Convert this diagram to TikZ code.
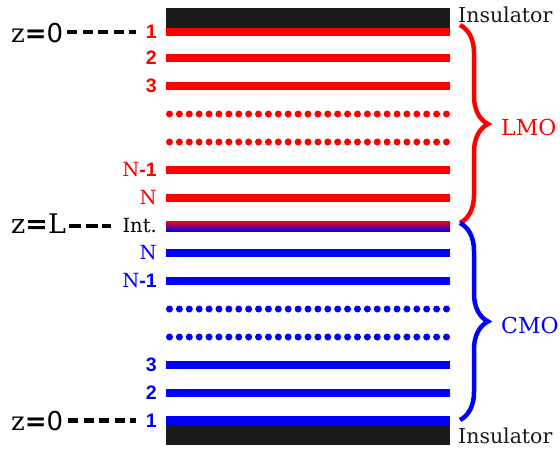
\documentclass[tikz,border=0pt]{standalone}
\usepackage{fontspec}
\setmainfont{DejaVu Serif}
\newfontfamily\numfont{Liberation Sans}
\newfontfamily\eqfont{DejaVu Sans}
\usetikzlibrary{decorations.pathreplacing}

\definecolor{insgray}{HTML}{1A1A1A}
\definecolor{lmored}{HTML}{FF0000}
\definecolor{cmoblue}{HTML}{0000FF}

\begin{document}
\begin{tikzpicture}[x=1pt,y=-1pt,
  layer/.style={rectangle, inner sep=0pt, outer sep=0pt, draw=none,
    minimum width=284pt, minimum height=8.5pt},
  insul/.style={rectangle, inner sep=0pt, outer sep=0pt, draw=none,
    fill=insgray, minimum width=284pt, minimum height=20pt},
  num/.style={font=\numfont\bfseries\fontsize{19.5}{19.5}\selectfont,
    anchor=east, inner sep=0pt},
  idx/.style={font=\fontsize{19.5}{19.5}\selectfont, anchor=east, inner sep=0pt},
  insname/.style={font=\fontsize{20.5}{20.5}\selectfont, anchor=base west,
    inner sep=0pt, text=insgray},
  region/.style={font=\fontsize{22}{22}\selectfont, anchor=west, inner sep=0pt},
  zlab/.style={anchor=base west, inner sep=0pt, text=black},
  zdash/.style={line width=4.5pt, black},
  brc/.style={decorate, decoration={brace, amplitude=28pt}, line width=4.5pt}
]
\useasboundingbox (0,0) rectangle (560,450);

% ---- LMO layers (red) ----
\node[layer, fill=lmored] (r1) at (308,32) {};
\node[layer, fill=lmored] (r2) at (308,58) {};
\node[layer, fill=lmored] (r3) at (308,86) {};
\node[layer, fill=lmored] (rn1) at (308,170) {};
\node[layer, fill=lmored] (rn) at (308,198) {};

% ---- interface layer: red fading into blue ----
\shade[top color=lmored, bottom color=cmoblue] (166,221) rectangle (450,231);
\node[inner sep=0pt, minimum width=284pt, minimum height=10pt] (int) at (308,226) {};

% ---- CMO layers (blue) ----
\node[layer, fill=cmoblue] (bn) at (308,253) {};
\node[layer, fill=cmoblue] (bn1) at (308,281) {};
\node[layer, fill=cmoblue] (b3) at (308,365) {};
\node[layer, fill=cmoblue] (b2) at (308,393) {};
\node[layer, fill=cmoblue] (b1) at (308,420.5) {};

% ---- dotted rows standing for the omitted layers ----
\foreach \yy/\cc in {114/lmored,142/lmored,309/cmoblue,337/cmoblue}{
  \foreach \k in {0,...,28}{
    \fill[\cc] (169.5+\k*9.893,\yy) circle (3.5pt);
  }
}

% ---- insulators ----
\node[insul] (instop) at (308,17.5) {};
\node[insul] (insbot) at (308,435) {};
\node[insname] (instoplab) at (458,22) {Insulator};
\node[insname] (insbotlab) at (458,443) {Insulator};

% ---- layer indices, LMO side ----
\node[num, text=lmored] (l1) at (157,32) {1};
\node[num, text=lmored] (l2) at (157,58) {2};
\node[num, text=lmored] (l3) at (157,86) {3};
\node[idx, text=lmored] (ln1) at (157,170) {N{\numfont\bfseries\fontsize{19.5}{19.5}\selectfont -1}};
\node[idx, text=lmored] (ln) at (157,198) {N};

% ---- interface label ----
\node[idx, text=black] (lint) at (157,226) {Int.};

% ---- layer indices, CMO side ----
\node[idx, text=cmoblue] (cn) at (157,253) {N};
\node[idx, text=cmoblue] (cn1) at (157,281) {N{\numfont\bfseries\fontsize{19.5}{19.5}\selectfont -1}};
\node[num, text=cmoblue] (c3) at (157,365) {3};
\node[num, text=cmoblue] (c2) at (157,393) {2};
\node[num, text=cmoblue] (c1) at (157,420.5) {1};

% ---- depth coordinate labels ----
\node[zlab] (ztop) at (11,42)
  {\fontsize{26}{26}\selectfont z{\eqfont\bfseries =}{\eqfont 0}};
\node[zlab] (zmid) at (11,233)
  {\fontsize{27}{27}\selectfont z{\eqfont\bfseries =}L};
\node[zlab] (zbot) at (11,430)
  {\fontsize{26}{26}\selectfont z{\eqfont\bfseries =}{\eqfont 0}};

\draw[zdash, dash pattern=on 10pt off 5.5pt, shorten <=4pt, shorten >=10pt]
  (ztop.east |- l1.west) -- (l1.west);
\draw[zdash, dash pattern=on 12pt off 4.5pt, shorten <=3pt, shorten >=11pt]
  (zmid.east |- lint.west) -- (lint.west);
\draw[zdash, dash pattern=on 10pt off 5.5pt, shorten <=5pt, shorten >=10pt]
  (zbot.east |- c1.west) -- (c1.west);

% ---- braces ----
\coordinate (lmotop) at (460,25);
\coordinate (meet) at (460,223);
\coordinate (cmobot) at (460,420);
\draw[brc, lmored] (lmotop) -- (meet);
\draw[brc, cmoblue] (meet) -- (cmobot);
\node[region, text=lmored] (lmo) at (501,127) {LMO};
\node[region, text=cmoblue] (cmo) at (501,325) {CMO};
\end{tikzpicture}
\end{document}
